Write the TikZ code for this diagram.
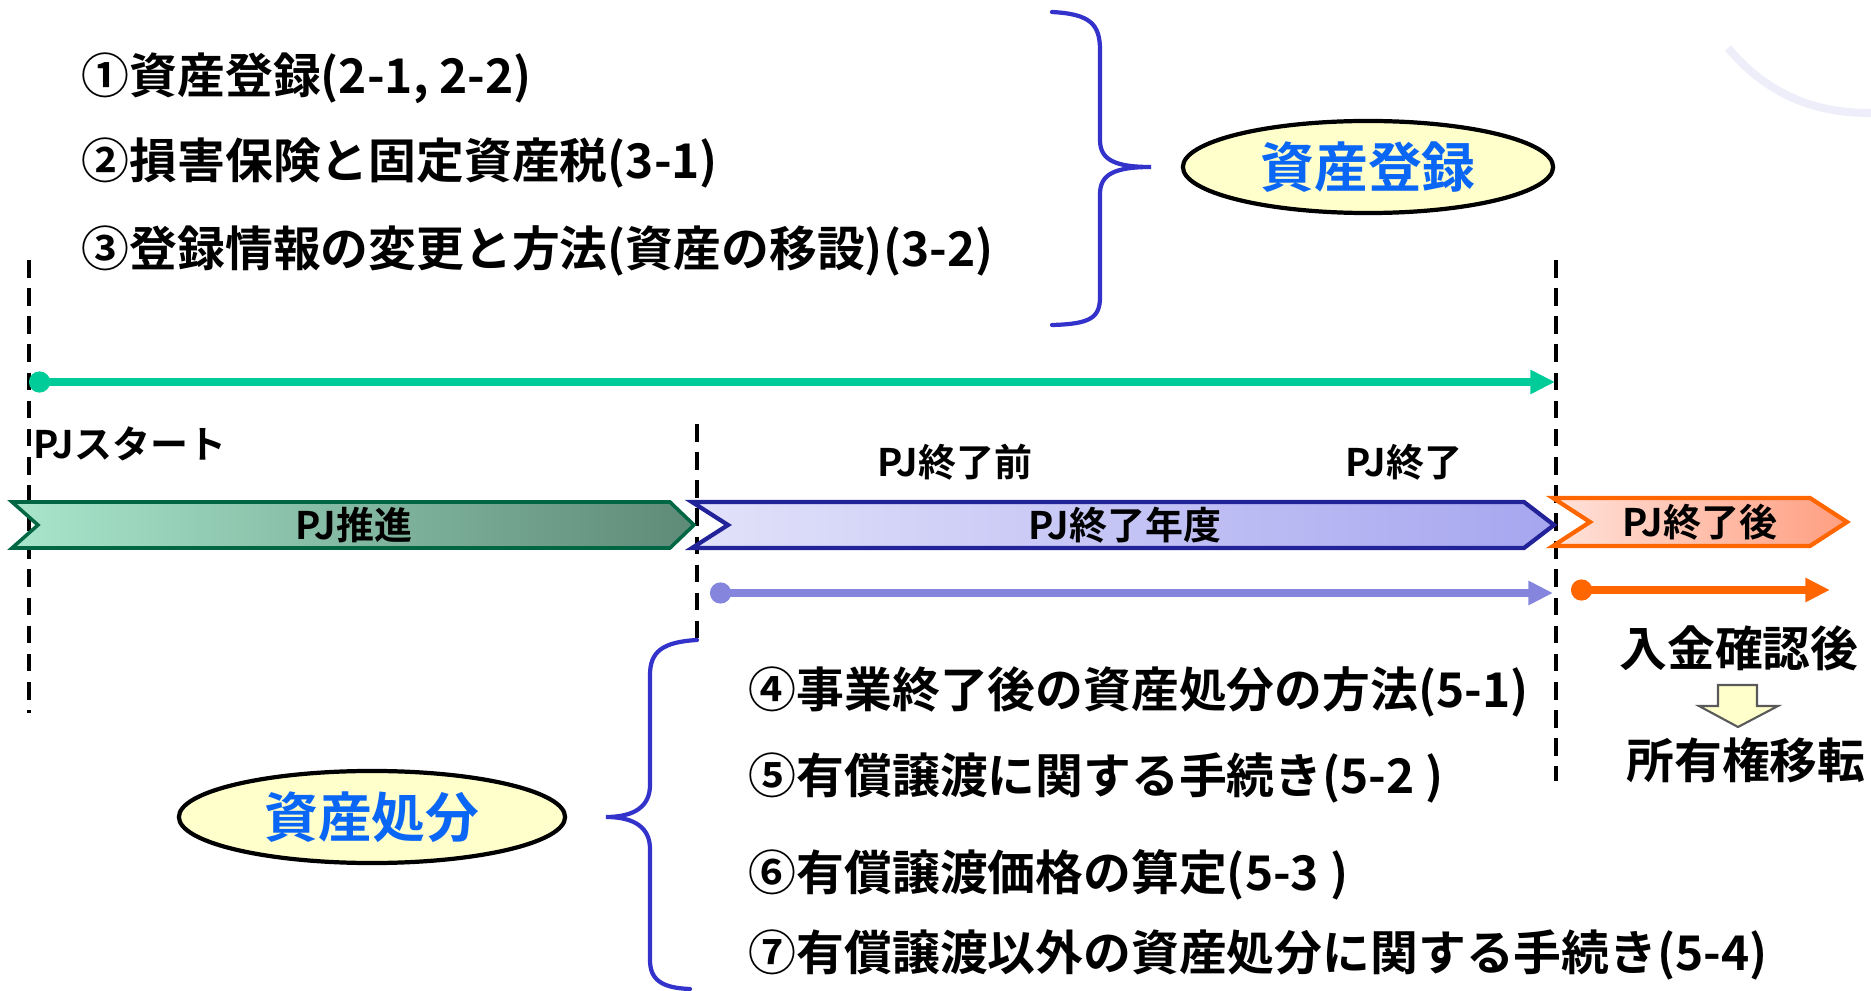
\documentclass[tikz,border=0pt]{standalone}
\usepackage{fontspec}
\newfontfamily\jp{Noto Sans CJK JP}[BoldFont={Noto Sans CJK JP Bold}]
\usetikzlibrary{arrows.meta,shapes.geometric}
\definecolor{tealline}{HTML}{00CC99}
\definecolor{purpline}{HTML}{8585DD}
\definecolor{orangeline}{HTML}{FF6600}
\definecolor{bracecol}{HTML}{3333CC}
\definecolor{ovaltext}{HTML}{0A66F5}
\definecolor{ovalfill}{HTML}{FFFFCC}
\definecolor{greenedge}{HTML}{006644}
\definecolor{greenlight}{HTML}{A8E6CC}
\definecolor{greendark}{HTML}{5E8A78}
\definecolor{navyedge}{HTML}{222299}
\definecolor{bluelight}{HTML}{E2E2FA}
\definecolor{bluedark}{HTML}{A6A6F0}
\definecolor{orangelight}{HTML}{FFE2DA}
\definecolor{orangedark}{HTML}{FF9E80}
\tikzset{
  guide/.style={dash pattern=on 5pt off 3pt, line width=0.9pt},
  timeline/.style={line width=2.4pt, -{Triangle[length=7pt,width=6.5pt]}},
  startdot/.style={{Circle[length=6pt,width=6pt]}-{Triangle[length=7pt,width=6.5pt]}},
  bigbrace/.style={line width=1.2pt, color=bracecol, line cap=round},
  itemtext/.style={anchor=west, inner sep=0, font=\jp\bfseries\fontsize{13.6}{16}\selectfont},
  smalllabel/.style={inner sep=0, font=\jp\bfseries\fontsize{10.8}{12}\selectfont},
  oval/.style={ellipse, draw, line width=1.2pt, fill=ovalfill, inner sep=0,
    text=ovaltext, font=\jp\bfseries\fontsize{15.3}{18}\selectfont},
}
\begin{document}
\begin{tikzpicture}[x=0.01cm,y=-0.01cm]
    \useasboundingbox (0,0) rectangle (1871,991);
    % faint arc in the corner
    \draw[line width=2.3pt, color=purpline!14] (1728,48) .. controls (1772,100) and (1822,113) .. (1871,113);
    % Draw dashed guides
    \coordinate (g1a) at (29,260);   \coordinate (g1b) at (29,713);
    \coordinate (g2a) at (697,424);  \coordinate (g2b) at (697,638);
    \coordinate (g3a) at (1556,260); \coordinate (g3b) at (1556,781);
    \draw[guide] (g1a) -- (g1b);
    \draw[guide] (g2a) -- (g2b);
    \draw[guide] (g3a) -- (g3b);
    % Draw the three phase chevrons
    \path[draw=greenedge, line width=1pt, left color=greenlight, right color=greendark]
      (12,502) -- (670,502) -- (694,525) -- (670,548) -- (12,548) -- (38,525) -- cycle;
    \path[draw=navyedge, line width=1.2pt, left color=bluelight, right color=bluedark]
      (692,502) -- (1524,502) -- (1554,525) -- (1524,548) -- (692,548) -- (728,525) -- cycle;
    \path[draw=orangeline, line width=1.2pt, left color=orangelight, right color=orangedark]
      (1553,498) -- (1810,498) -- (1847,522) -- (1810,546) -- (1553,546) -- (1590,522) -- cycle;
    \node[smalllabel] (promo) at (354,525) {PJ推進};
    \node[smalllabel] (lastyear) at (1125,525) {PJ終了年度};
    \node[smalllabel] (after) at (1700,522) {PJ終了後};
    % milestone labels
    \node[smalllabel, anchor=west] (start) at (33,444) {PJスタート};
    \node[smalllabel] (beforeend) at (955,462) {PJ終了前};
    \node[smalllabel] (end) at (1404,462) {PJ終了};
    % Draw the period arrows
    \coordinate (t1) at (29,382);   \coordinate (t2) at (1555,382);
    \coordinate (p1) at (710,593);  \coordinate (p2) at (1553,593);
    \coordinate (o1) at (1571,590); \coordinate (o2) at (1830,590);
    \draw[timeline, startdot, color=tealline] (t1) -- (t2);
    \draw[timeline, startdot, color=purpline] (p1) -- (p2);
    \draw[timeline, startdot, color=orangeline] (o1) -- (o2);
    % registration items
    \node[itemtext] (reg1) at (81,78) {①資産登録(2-1, 2-2)};
    \node[itemtext] (reg2) at (81,163) {②損害保険と固定資産税(3-1)};
    \node[itemtext] (reg3) at (81,251) {③登録情報の変更と方法(資産の移設)(3-2)};
    \draw[bigbrace] (1052,12) .. controls (1090,14) and (1100,24) .. (1100,50) -- (1100,140)
      .. controls (1100,160) and (1115,167) .. (1151,167)
      .. controls (1115,167) and (1100,174) .. (1100,194) -- (1100,297)
      .. controls (1100,318) and (1090,324) .. (1052,325);
    \node[oval, minimum width=3.7cm, minimum height=0.92cm] (regoval) at (1368,167) {資産登録};
    % disposal items
    \node[itemtext] (dis4) at (748,692) {④事業終了後の資産処分の方法(5-1)};
    \node[itemtext] (dis5) at (748,778) {⑤有償譲渡に関する手続き(5-2 )};
    \node[itemtext] (dis6) at (748,875) {⑥有償譲渡価格の算定(5-3 )};
    \node[itemtext] (dis7) at (748,955) {⑦有償譲渡以外の資産処分に関する手続き(5-4)};
    \draw[bigbrace] (697,640) .. controls (662,642) and (650,652) .. (650,675) -- (650,785)
      .. controls (650,806) and (635,817) .. (606,817)
      .. controls (635,817) and (650,828) .. (650,849) -- (650,960)
      .. controls (650,980) and (662,988) .. (690,989);
    \node[oval, minimum width=3.86cm, minimum height=0.92cm] (disoval) at (372,817) {資産処分};
    % transfer after payment
    \node[itemtext, anchor=center] (paid) at (1739,648) {入金確認後};
    \node[itemtext, anchor=center] (owner) at (1746,760) {所有権移転};
    \filldraw[fill=ovalfill, draw=black!65, line width=0.6pt]
      (1718,685) -- (1757,685) -- (1757,706) -- (1778,706) -- (1738,727) -- (1699,706) -- (1718,706) -- cycle;
\end{tikzpicture}
\end{document}
